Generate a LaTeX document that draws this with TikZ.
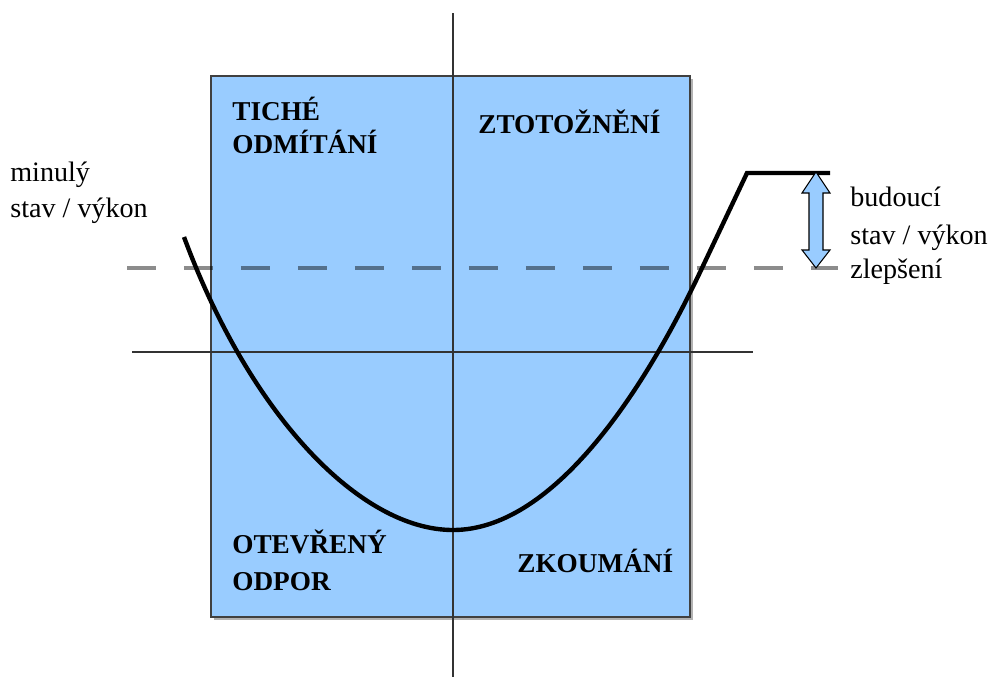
\documentclass[tikz,border=0pt]{standalone}
\usepackage{fontspec}
\setmainfont{Liberation Serif}
\definecolor{boxblue}{HTML}{99CCFF}
\definecolor{axisgray}{HTML}{333333}
\tikzset{
  lbl/.style={anchor=base west, inner sep=0pt, font=\fontsize{16}{19}\selectfont},
  blbl/.style={anchor=base west, inner sep=0pt, font=\fontsize{15.5}{19}\selectfont\bfseries},
  axis/.style={draw=axisgray, line width=0.9pt},
  curve/.style={draw=black, line width=2.5pt, line join=miter},
}
\begin{document}
\begin{tikzpicture}[x=0.02cm,y=-0.02cm]
\useasboundingbox (0,0) rectangle (989,677);
% shadow and box
\fill[black!30] (214,79) rectangle (693,620);
\filldraw[fill=boxblue, draw=black!75, line width=0.8pt] (211,76) rectangle (690,617);
% axes
\draw[axis] (453,13) -- (453,677);
\draw[axis] (132,352) -- (753,352);
% dashed level line
\draw[black, opacity=0.45, line width=2.2pt, dash pattern=on 0.58cm off 0.56cm] (127,268) -- (838,268);
% curve
\draw[curve] (184,237) .. controls (250,415) and (360,530) .. (453,530)
  .. controls (550,530) and (640,400) .. (702,268) -- (747,173) -- (830,173);
% double block arrow
\filldraw[fill=boxblue, draw=black, line width=0.6pt]
  (816,172) -- (830,193) -- (823,193) -- (823,250) -- (830,250) -- (816,268)
  -- (802,250) -- (809,250) -- (809,193) -- (802,193) -- cycle;
% labels
\node[lbl] (m1) at (10,181) {minulý};
\node[lbl] (m2) at (10,217) {stav / výkon};
\node[lbl] (b1) at (850,206) {budoucí};
\node[lbl] (b2) at (850,244) {stav / výkon};
\node[lbl] (b3) at (850,278) {zlepšení};
\node[blbl] (t1) at (232,120) {TICHÉ};
\node[blbl] (t2) at (232,153) {ODMÍTÁNÍ};
\node[blbl] (z1) at (478,133) {ZTOTOŽNĚNÍ};
\node[blbl] (o1) at (232,553) {OTEVŘENÝ};
\node[blbl] (o2) at (232,590) {ODPOR};
\node[blbl] (k1) at (517,572) {ZKOUMÁNÍ};
\end{tikzpicture}
\end{document}
